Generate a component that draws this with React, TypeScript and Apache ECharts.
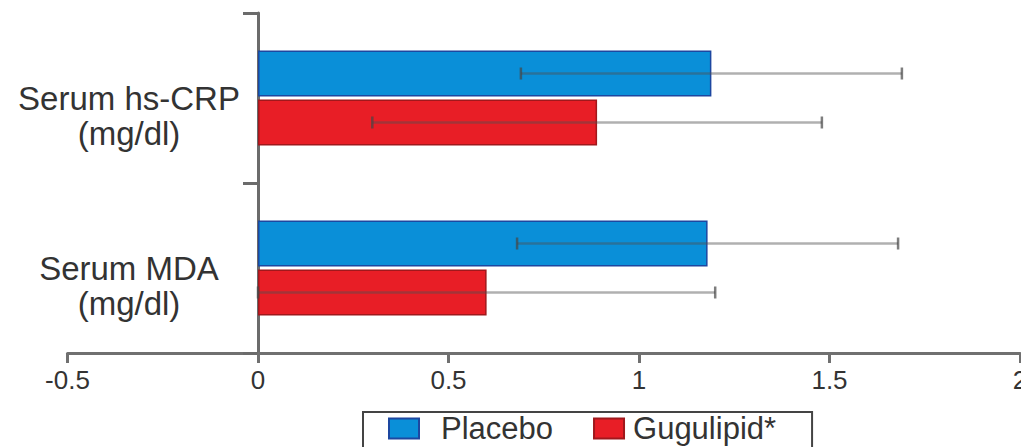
import React, { useEffect, useRef } from "react";
import * as echarts from "echarts";

const categories = ["Serum hs-CRP\n(mg/dl)", "Serum MDA\n(mg/dl)"];
const placeboMean = [1.19, 1.18];
const placeboSD = [0.5, 0.5];
const gugulipidMean = [0.89, 0.6];
const gugulipidSD = [0.59, 0.6];
const xTicks = [-0.5, 0, 0.5, 1, 1.5, 2];

const FONT = "'Liberation Sans', Arial, Helvetica, sans-serif";

export default function App() {
  const ref = useRef<HTMLDivElement>(null);
  useEffect(() => {
    if (!ref.current) return;
    const chart = echarts.init(ref.current, undefined, { renderer: "svg" });
    const barFrac = 0.56 / 2.06;
    const makeErr = (means: number[], sds: number[], sign: number, name: string) => ({
      type: "custom",
      name,
      z: 5,
      encode: { x: [0, 1], y: 2 },
      data: means.map((m, i) => [m - sds[i], m + sds[i], i]),
      renderItem: (params: any, api: any) => {
        const lo = api.coord([api.value(0), api.value(2)]);
        const hi = api.coord([api.value(1), api.value(2)]);
        const band = api.size([0, 1])[1];
        const w = band * barFrac;
        const y = lo[1] + sign * w * 0.53;
        const cap = 6;
        return {
          type: "group",
          children: [
            { type: "line", shape: { x1: lo[0], y1: y, x2: hi[0], y2: y }, style: { stroke: "rgba(80,80,80,0.45)", lineWidth: 2.5 } },
            { type: "line", shape: { x1: lo[0], y1: y - cap, x2: lo[0], y2: y + cap }, style: { stroke: "rgba(70,70,70,0.7)", lineWidth: 2.5 } },
            { type: "line", shape: { x1: hi[0], y1: y - cap, x2: hi[0], y2: y + cap }, style: { stroke: "rgba(70,70,70,0.7)", lineWidth: 2.5 } },
          ],
        };
      },
    });
    chart.setOption({
      animation: false,
      textStyle: { fontFamily: FONT },
      grid: { left: 67.5, right: 1, top: 13, bottom: 94, containLabel: false, outerBoundsMode: "none" },
      legend: {
        left: 363,
        top: 412,
        padding: [1, 36, 4, 25],
        itemGap: 40,
        itemWidth: 30,
        itemHeight: 20,
        icon: "rect",
        borderColor: "#444",
        borderWidth: 2,
        borderRadius: 0,
        textStyle: { fontSize: 31, color: "#333", fontFamily: FONT },
        data: [
          { name: "Placebo", textStyle: { padding: [0, 0, 0, 17] } },
          { name: "Gugulipid*", textStyle: { padding: [0, 0, 0, 4] } },
        ],
      },
      xAxis: {
        type: "value",
        min: xTicks[0],
        max: xTicks[xTicks.length - 1],
        interval: 0.5,
        splitLine: { show: false },
        axisLine: { show: true, lineStyle: { color: "#707070", width: 3 } },
        axisTick: { show: true, length: 10, lineStyle: { color: "#707070", width: 3 } },
        axisLabel: { fontSize: 26, color: "#333", margin: 14, fontFamily: FONT, formatter: (v: number) => String(v) },
      },
      yAxis: {
        type: "category",
        inverse: true,
        data: categories,
        axisLine: { show: true, onZero: true, lineStyle: { color: "#6b6b6b", width: 3 } },
        axisTick: { show: true, length: 15, lineStyle: { color: "#6b6b6b", width: 3 } },
        axisLabel: {
          fontSize: 33,
          lineHeight: 35,
          color: "#333",
          align: "center",
          margin: -61.5,
          fontFamily: FONT,
          formatter: (v: string) => "\n" + v,
        },
      },
      series: [
        {
          type: "bar",
          name: "Placebo",
          data: placeboMean,
          barCategoryGap: "44%",
          barGap: "6%",
          itemStyle: { color: "#0a8fd8", borderColor: "#1d47a0", borderWidth: 1.5 },
        },
        {
          type: "bar",
          name: "Gugulipid*",
          data: gugulipidMean,
          barCategoryGap: "44%",
          barGap: "6%",
          itemStyle: { color: "#e81e26", borderColor: "#a0181c", borderWidth: 1.5 },
        },
        makeErr(placeboMean, placeboSD, -1, "Placebo SD"),
        makeErr(gugulipidMean, gugulipidSD, 1, "Gugulipid SD"),
      ],
    });
    return () => chart.dispose();
  }, []);
  return <div ref={ref} style={{ width: 1021, height: 447, position: "absolute", left: 0, top: 0 }} />;
}
